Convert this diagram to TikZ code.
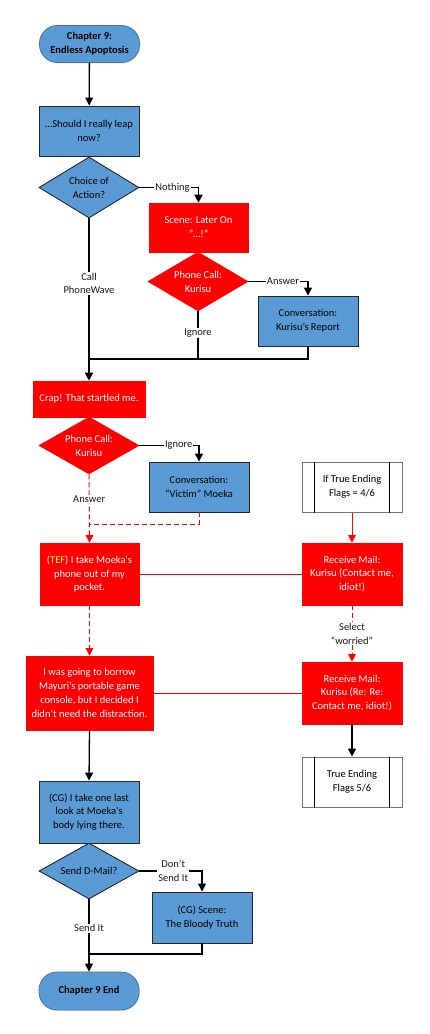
\documentclass[tikz,border=0pt]{standalone}
\usepackage{fontspec}
\setmainfont{Carlito}
\usetikzlibrary{shapes.geometric,arrows.meta,shadows}
\definecolor{vblue}{HTML}{5B9BD5}
\definecolor{vred}{HTML}{FF0000}
\definecolor{tefy}{HTML}{FFFF00}
\definecolor{tborder}{HTML}{41719C}
\begin{document}
\begin{tikzpicture}[x=1pt,y=-1pt,
  font=\fontsize{10.5}{13.8}\selectfont,
  shad/.style={drop shadow={opacity=0.18,shadow xshift=1.2pt,shadow yshift=-1.2pt}},
  bbox/.style={rectangle,shad,fill=vblue,draw=black!85,line width=0.9pt,text=black,align=center,inner sep=1pt},
  rbox/.style={rectangle,shad,fill=vred,draw=vred,line width=0.6pt,text=white,align=center,inner sep=1pt},
  term/.style={rectangle,shad,rounded corners=18pt,fill=vblue,draw=tborder,line width=0.8pt,text=black,align=center,
    font=\fontsize{10.5}{13.8}\selectfont\bfseries,minimum width=100pt},
  bdia/.style={diamond,fill=vblue,draw=black!85,line width=0.9pt,inner sep=0pt,minimum width=100pt},
  rdia/.style={diamond,fill=vred,draw=vred,line width=0.6pt,inner sep=0pt,minimum width=100pt},
  dlab/.style={align=center,text=black},
  rdlab/.style={align=center,text=white},
  flag/.style={rectangle,fill=white,draw=black!55,line width=1pt,align=center,minimum width=100pt,minimum height=50pt,text=black},
  lab/.style={fill=white,inner sep=1pt,align=center,text=black!90},
  ln/.style={line width=1.3pt,draw=black},
  arr/.style={ln,-{Triangle[width=8pt,length=8pt]}},
  rln/.style={line width=1pt,draw=vred},
  rarr/.style={rln,-{Triangle[width=7.5pt,length=7.5pt]},color=vred},
  rdash/.style={rarr,dash pattern=on 5pt off 3pt}
]
\useasboundingbox (0,0) rectangle (429,1034);

% nodes
\node[term,minimum height=37pt] (start) at (89.5,44) {Chapter 9:\\Endless Apoptosis};
\node[bbox,minimum width=100pt,minimum height=50pt] (q1) at (89,131) {…Should I really leap\\now?};
\node[bdia,minimum height=61pt,label={[dlab]center:{Choice of\\Action?}}] (d1) at (89,187.5) {};
\node[rbox,minimum width=99pt,minimum height=49pt] (s1) at (198.5,227.5) {Scene: Later On\\"…!"};
\node[rdia,minimum height=59pt,label={[rdlab]center:{Phone Call:\\Kurisu}}] (d2) at (198,281.5) {};
\node[bbox,minimum width=100pt,minimum height=50pt] (r1) at (308,321) {Conversation:\\Kurisu’s Report};
\node[rbox,minimum width=112pt,minimum height=36pt] (crap) at (89,399) {Crap! That startled me.};
\node[rdia,minimum height=57pt,label={[rdlab]center:{Phone Call:\\Kurisu}}] (d3) at (89,445.5) {};
\node[bbox,minimum width=100pt,minimum height=50pt] (c2) at (199,487) {Conversation:\\“Victim” Moeka};
\node[flag] (f1) at (352,487) {If True Ending\\Flags = 4/6};
\node[rbox,minimum width=99pt,minimum height=62pt] (tef) at (89.5,574) {({\color{tefy}TEF}) I take Moeka\textquotesingle s\\phone out of my\\pocket.};
\node[rbox,minimum width=100pt,minimum height=62pt] (rm1) at (352,574) {Receive Mail:\\Kurisu (Contact me,\\idiot!)};
\node[rbox,minimum width=127pt,minimum height=74pt] (may) at (89.5,693) {I was going to borrow\\Mayuri’s portable game\\console, but I decided I\\didn’t need the distraction.};
\node[rbox,minimum width=100pt,minimum height=62pt] (rm2) at (352,693) {Receive Mail:\\Kurisu (Re: Re:\\Contact me, idiot!)};
\node[flag] (f2) at (352,782) {True Ending\\Flags 5/6};
\node[bbox,minimum width=100pt,minimum height=62pt] (cg) at (89,812) {(CG) I take one last\\look at Moeka\textquotesingle s\\body lying there.};
\node[bdia,minimum height=56pt,label={[dlab]center:{Send D-Mail?}}] (d4) at (89,871) {};
\node[bbox,minimum width=100pt,minimum height=51pt] (b) at (202,917.5) {(CG) Scene:\\The Bloody Truth};
\node[term,minimum height=38pt] (end) at (89,991) {Chapter 9 End};

% inner lines of the flag boxes
\foreach \f in {f1,f2}{
  \draw[line width=0.9pt,black] ([xshift=13pt]\f.north west) -- ([xshift=13pt]\f.south west);
  \draw[line width=0.9pt,black] ([xshift=-13pt]\f.north east) -- ([xshift=-13pt]\f.south east);
}

% junction coordinates
\coordinate (m1) at (89,359);
\coordinate (j1) at (89,524);
\coordinate (j2) at (89,954);

% connectors
\draw[arr] (start) -- (q1);
\draw[arr] (d1.east) -| node[lab,pos=0.28]{Nothing} (s1.north);
\draw[arr] (d2.east) -| node[lab,pos=0.29]{Answer} (r1.north);
\draw[ln] (d2.south) -- node[lab,pos=0.45]{Ignore} (d2.south |- m1);
\draw[ln] (r1.south) |- (m1);
\draw[arr] (d1.south) -- node[lab,pos=0.4]{Call\\PhoneWave} (crap.north);
\draw[arr] (d3.east) -| node[lab,pos=0.33]{Ignore} (c2.north);
\draw[rdash] (d3.south) -- node[lab,pos=0.36]{Answer} (tef.north);
\draw[rln,dash pattern=on 5pt off 3pt] (c2.south) |- (j1);
\draw[rarr] (f1.south) -- (rm1.north);
\draw[rln] (tef.east) -- (rm1.west);
\draw[rdash] (rm1.south) -- node[lab,pos=0.5]{Select\\“worried”} (rm2.north);
\draw[rdash] (tef.south) -- (may.north);
\draw[rln] (may.east) -- (rm2.west);
\draw[arr] (rm2.south) -- (f2.north);
\draw[arr] (may.south) -- (cg.north);
\draw[arr] (d4.east) -| node[lab,pos=0.27]{Don’t\\Send It} (b.north);
\draw[arr] (d4.south) -- node[lab,pos=0.4]{Send It} (end.north);
\draw[ln] (b.south) |- (j2);
\end{tikzpicture}
\end{document}
